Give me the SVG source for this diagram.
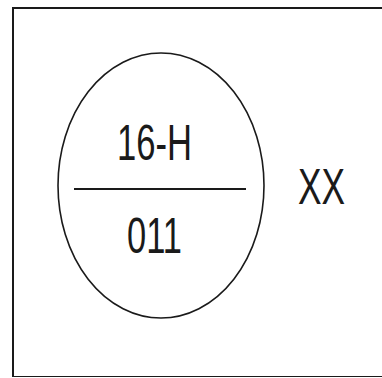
<svg xmlns="http://www.w3.org/2000/svg" width="382" height="378" viewBox="0 0 382 378">
<style>
.t{font-family:"Liberation Sans",Arial,sans-serif;font-size:50px;fill:#1a1a1a}
.s{fill:none;stroke:#1a1a1a}
</style>
<rect width="382" height="378" fill="#fff"/>
<path class="s" stroke-width="2" d="M13,377 V8 H382"/>
<path class="s" stroke-width="1" stroke="#888" d="M13,376.5 H382"/>
<g id="node-circle">
<ellipse class="s" stroke-width="1.6" cx="161" cy="185.5" rx="103" ry="132.5"/>
<line class="s" stroke-width="2" x1="74" y1="189" x2="246" y2="189"/>
<text class="t" x="117" y="160" textLength="75" lengthAdjust="spacingAndGlyphs">16-H</text>
<text class="t" x="127" y="253" textLength="55" lengthAdjust="spacingAndGlyphs">011</text>
</g>
<g id="node-xx">
<text class="t" x="298" y="204" textLength="47" lengthAdjust="spacingAndGlyphs">XX</text>
</g>
<g id="connectors"></g>
</svg>
